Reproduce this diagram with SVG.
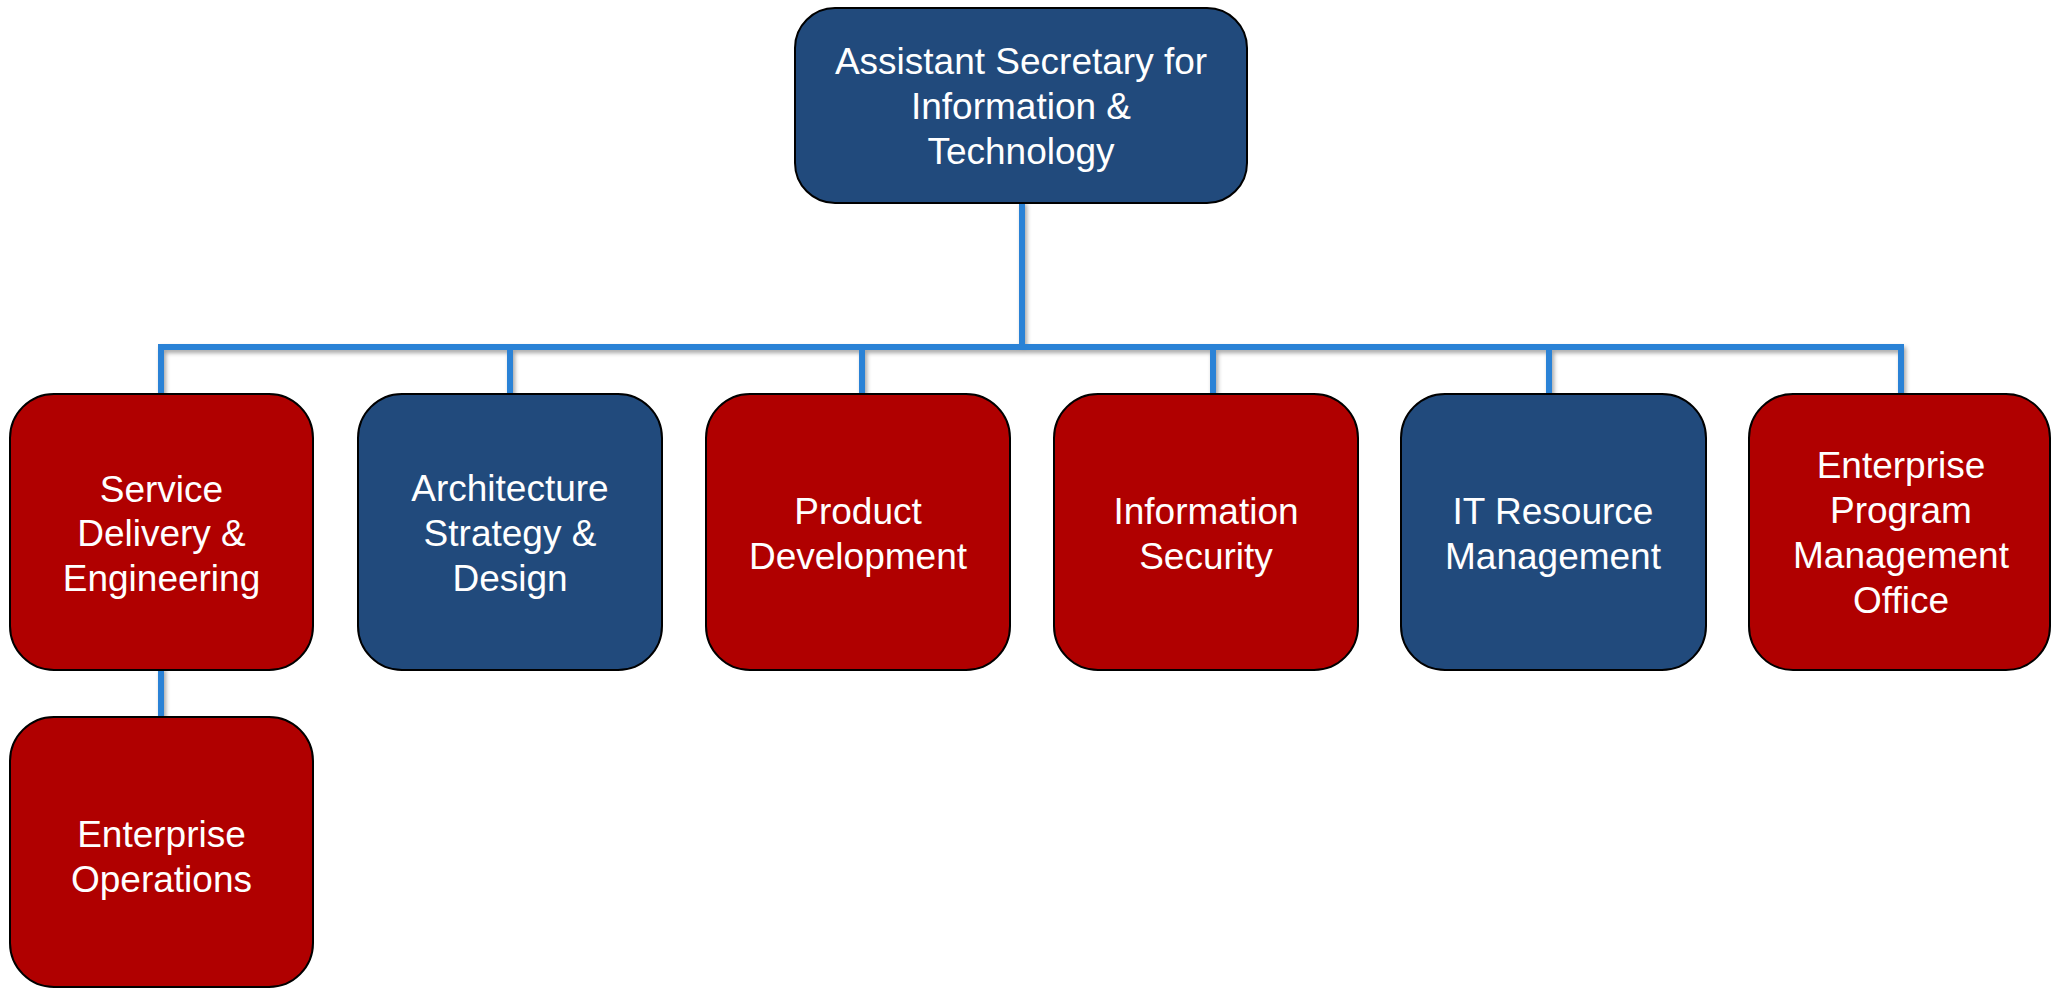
<svg xmlns="http://www.w3.org/2000/svg" width="2051" height="990" viewBox="0 0 2051 990">
<style>
.box{stroke:#000;stroke-width:2}
.red{fill:#B00000}
.blue{fill:#214A7C}
.lbl{font-family:"Liberation Sans",Arial,sans-serif;font-size:37px;fill:#fff;text-anchor:middle}
.conn{stroke:#2A82D6;stroke-width:6;fill:none;stroke-linecap:square}
</style>
<defs>
<filter id="sh" x="-5%" y="-5%" width="110%" height="110%">
<feDropShadow dx="2" dy="3" stdDeviation="2" flood-color="#000" flood-opacity="0.35"/>
</filter>
</defs>
<rect width="2051" height="990" fill="#fff"/>
<g id="connectors" filter="url(#sh)">
<path class="conn" d="M1022,204 V347"/>
<path class="conn" d="M161,347 H1901"/>
<path class="conn" d="M161,347 V393"/>
<path class="conn" d="M510,347 V393"/>
<path class="conn" d="M862,347 V393"/>
<path class="conn" d="M1213,347 V393"/>
<path class="conn" d="M1549,347 V393"/>
<path class="conn" d="M1901,347 V393"/>
<path class="conn" d="M161,670 V716"/>
</g>
<g id="asit">
<rect class="box blue" x="795" y="8" width="452" height="195" rx="40"/>
<text class="lbl" x="1021" y="74">Assistant Secretary for</text>
<text class="lbl" x="1021" y="119">Information &amp;</text>
<text class="lbl" x="1021" y="164">Technology</text>
</g>
<g id="sde">
<rect class="box red" x="10" y="394" width="303" height="276" rx="44"/>
<text class="lbl" x="161.5" y="502">Service</text>
<text class="lbl" x="161.5" y="546">Delivery &amp;</text>
<text class="lbl" x="161.5" y="591">Engineering</text>
</g>
<g id="asd">
<rect class="box blue" x="358" y="394" width="304" height="276" rx="44"/>
<text class="lbl" x="510" y="501">Architecture</text>
<text class="lbl" x="510" y="546">Strategy &amp;</text>
<text class="lbl" x="510" y="591">Design</text>
</g>
<g id="pd">
<rect class="box red" x="706" y="394" width="304" height="276" rx="44"/>
<text class="lbl" x="858" y="524">Product</text>
<text class="lbl" x="858" y="569">Development</text>
</g>
<g id="is">
<rect class="box red" x="1054" y="394" width="304" height="276" rx="44"/>
<text class="lbl" x="1206" y="524">Information</text>
<text class="lbl" x="1206" y="569">Security</text>
</g>
<g id="itrm">
<rect class="box blue" x="1401" y="394" width="305" height="276" rx="44"/>
<text class="lbl" x="1553" y="524">IT Resource</text>
<text class="lbl" x="1553" y="569">Management</text>
</g>
<g id="epmo">
<rect class="box red" x="1749" y="394" width="301" height="276" rx="44"/>
<text class="lbl" x="1901" y="478">Enterprise</text>
<text class="lbl" x="1901" y="523">Program</text>
<text class="lbl" x="1901" y="568">Management</text>
<text class="lbl" x="1901" y="613">Office</text>
</g>
<g id="eo">
<rect class="box red" x="10" y="717" width="303" height="270" rx="44"/>
<text class="lbl" x="161.5" y="847">Enterprise</text>
<text class="lbl" x="161.5" y="892">Operations</text>
</g>
</svg>
